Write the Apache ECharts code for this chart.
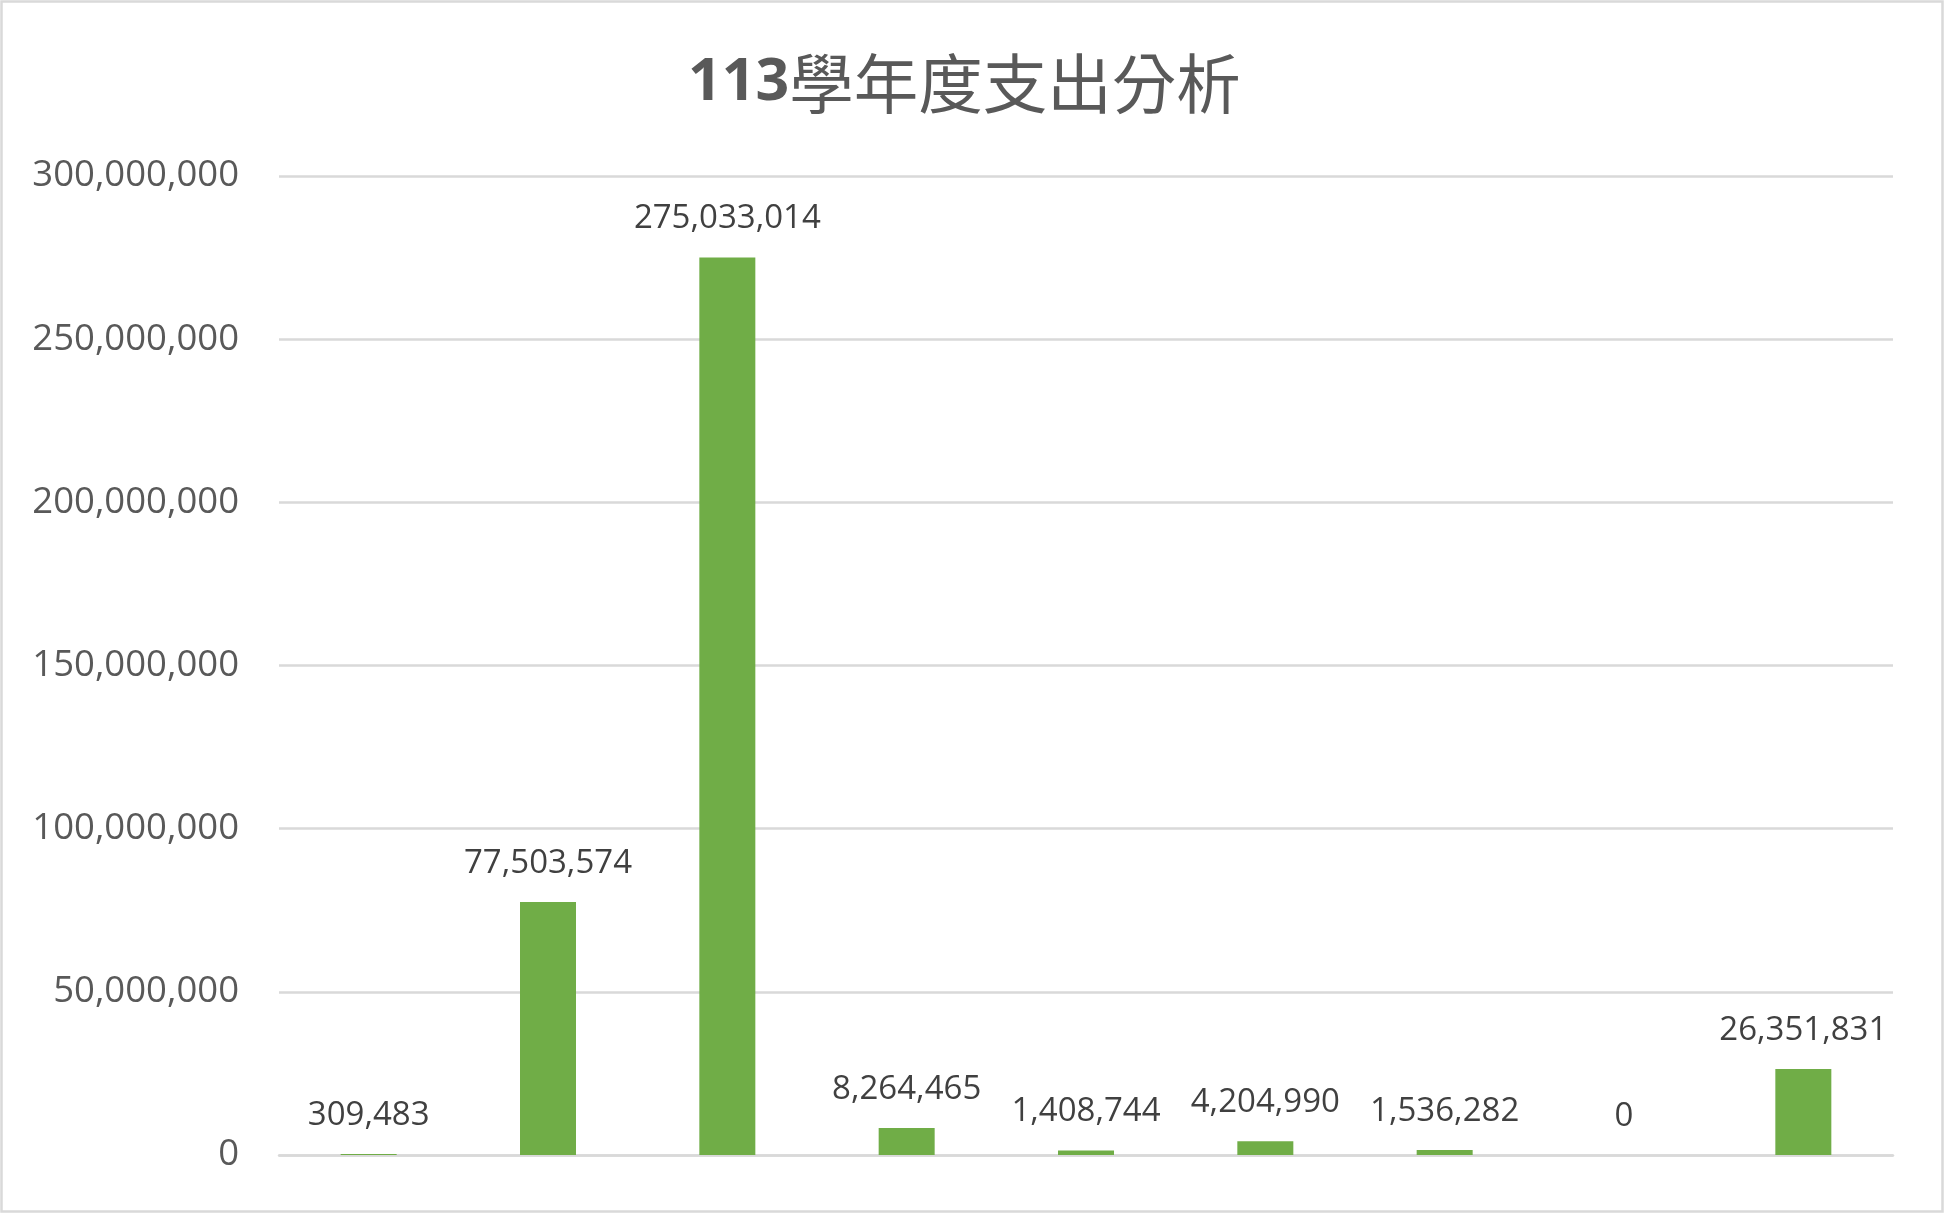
<!DOCTYPE html>
<html>
<head>
<meta charset="utf-8">
<script src="https://cdn.jsdelivr.net/npm/echarts@6/dist/echarts.min.js"></script>
<style>
html,body{margin:0;padding:0;background:#fff;}
#chart{width:1945px;height:1214px;}
</style>
</head>
<body>
<div id="chart"></div>
<script>
const titleNumber = '113';
const titleText = '學年度支出分析';
const categories = ['項目1','項目2','項目3','項目4','項目5','項目6','項目7','項目8','項目9'];
const expenses = [309483, 77503574, 275033014, 8264465, 1408744, 4204990, 1536282, 0, 26351831];
const yTicks = [0, 50000000, 100000000, 150000000, 200000000, 250000000, 300000000];

const fmt = v => Number(v).toLocaleString('en-US');

const chart = echarts.init(document.getElementById('chart'));
chart.setOption({
  backgroundColor: '#ffffff',
  animation: false,
  title: {
    text: '{b|' + titleNumber + '}{n|' + titleText + '}',
    left: 683,
    top: 46,
    textStyle: {
      rich: {
        b: { fontFamily: 'Open Sans', fontWeight: 'bold', fontSize: 59, color: '#595959' },
        n: { fontFamily: 'Noto Sans CJK TC', fontWeight: 'normal', fontSize: 64.5, color: '#595959' }
      }
    }
  },
  graphic: [{
    type: 'rect',
    shape: { x: 1.5, y: 1.5, width: 1941, height: 1210 },
    style: { fill: 'none', stroke: '#d9d9d9', lineWidth: 2.5 },
    silent: true
  }],
  grid: { left: 279, right: 52, top: 176, bottom: 59 },
  xAxis: {
    type: 'category',
    data: categories,
    axisLine: { show: true, lineStyle: { color: '#d9d9d9', width: 2.5 } },
    axisTick: { show: false },
    axisLabel: { show: false }
  },
  yAxis: {
    type: 'value',
    min: yTicks[0],
    max: yTicks[yTicks.length - 1],
    interval: yTicks[1] - yTicks[0],
    axisLine: { show: false },
    axisTick: { show: false },
    splitLine: { lineStyle: { color: '#d9d9d9', width: 2.5 } },
    axisLabel: {
      margin: 40,
      fontFamily: 'Open Sans',
      fontSize: 36.5,
      color: '#595959',
      formatter: fmt
    }
  },
  series: [{
    type: 'bar',
    data: expenses,
    barWidth: 56,
    itemStyle: { color: '#70AD47' },
    label: {
      show: true,
      position: 'top',
      distance: 22,
      fontFamily: 'Open Sans',
      fontSize: 33,
      color: '#404040',
      formatter: p => fmt(p.value)
    }
  }]
});
</script>
</body>
</html>
